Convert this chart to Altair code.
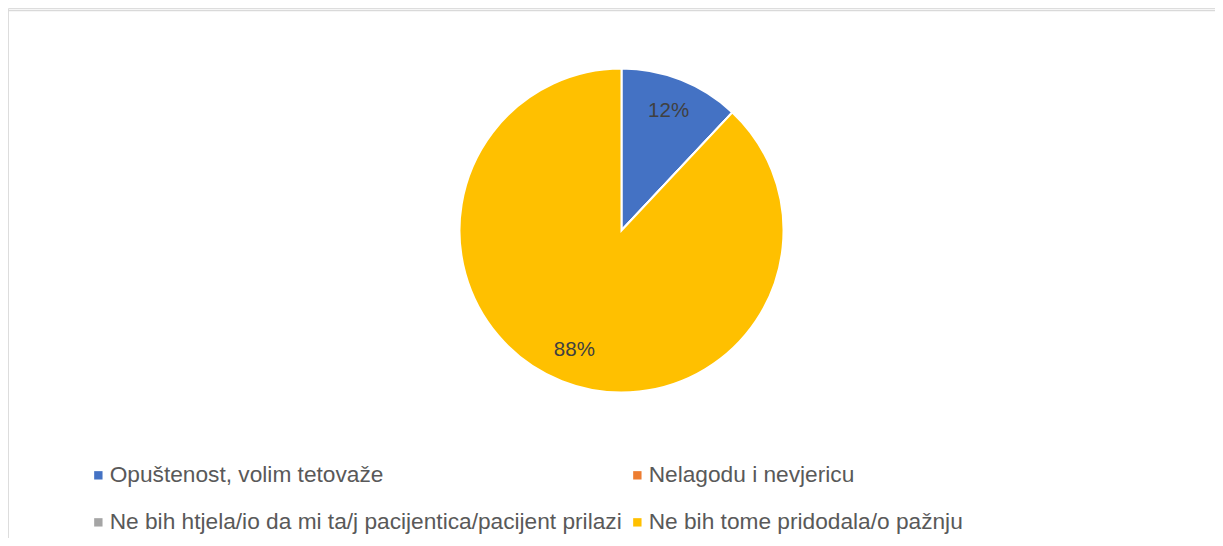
import altair as alt
import pandas as pd

categories = [
    "Opuštenost, volim tetovaže",
    "Nelagodu i nevjericu",
    "Ne bih htjela/io da mi ta/j pacijentica/pacijent prilazi",
    "Ne bih tome pridodala/o pažnju",
]
values = [12, 0, 0, 88]
colors = ["#4472C4", "#ED7D31", "#A5A5A5", "#FFC000"]

df = pd.DataFrame({"category": categories, "value": values, "order": list(range(len(values)))})
df["label"] = df["value"].map(lambda v: f"{v}%")

W, H = 1207, 530
CX, CY, R = 613.5, 222.5, 162
FONT = "Liberation Sans"

base = alt.Chart(df).encode(
    theta=alt.Theta("value:Q", stack=True),
    order=alt.Order("order:Q"),
    x=alt.value(CX),
    y=alt.value(CY),
)

pie = base.mark_arc(outerRadius=R, stroke="white", strokeWidth=2).encode(
    color=alt.Color(
        "category:N",
        scale=alt.Scale(domain=categories, range=colors),
        sort=categories,
        legend=alt.Legend(
            title=None,
            orient="none",
            direction="horizontal",
            legendX=79,
            legendY=455.5,
            columns=2,
            columnPadding=4,
            rowPadding=23.5,
            symbolType="square",
            symbolSize=70,
            symbolStrokeWidth=0,
            labelFont=FONT,
            labelFontSize=22.7,
            labelColor="#595959",
            labelLimit=1000,
            labelOffset=0,
            padding=0,
        ),
    )
)

text = base.transform_filter("datum.value > 0").mark_text(
    radius=128, font=FONT, fontSize=20.5, color="#404040"
).encode(text="label:N")

border_df = pd.DataFrame({"k": [0]})
left_line = alt.Chart(border_df).mark_rule(color="#d9d9d9", strokeWidth=1.5).encode(
    x=alt.value(-1), y=alt.value(2), y2=alt.value(H)
)
top_line = alt.Chart(border_df).mark_rule(color="#d9d9d9", strokeWidth=1.5).encode(
    x=alt.value(-1), x2=alt.value(W), y=alt.value(2.5)
)

chart = (
    alt.layer(pie, text, left_line, top_line)
    .properties(width=W, height=H, padding=0, autosize=alt.AutoSizeParams(type="none"))
    .configure_view(stroke=None)
    .configure(background="white")
)

chart.save("out.html", embed_options={"renderer": "svg", "actions": False})
